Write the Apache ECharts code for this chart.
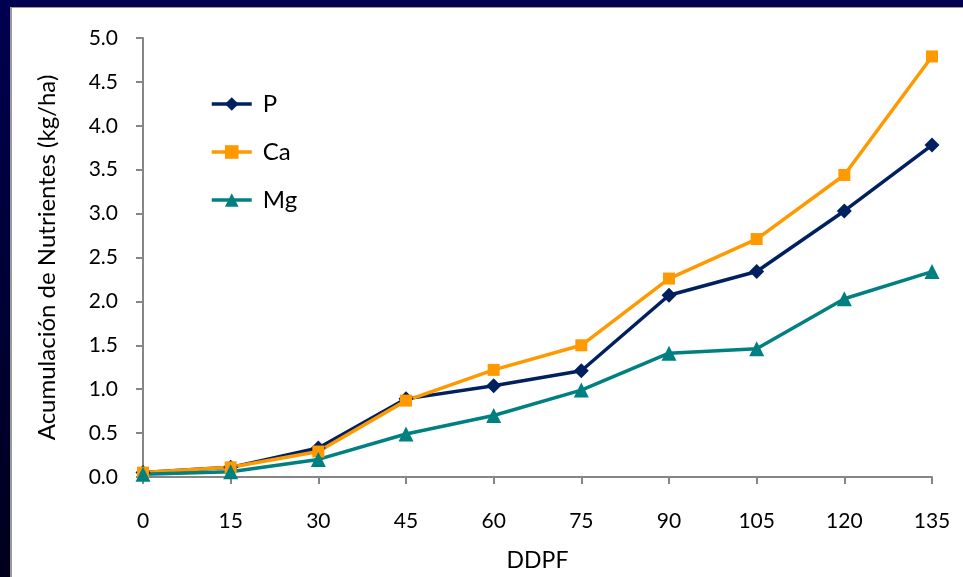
<!DOCTYPE html>
<html>
<head>
<meta charset="utf-8">
<script src="https://cdn.jsdelivr.net/npm/echarts@6/dist/echarts.min.js"></script>
<style>
  html, body { margin: 0; padding: 0; }
  body {
    width: 963px; height: 577px; overflow: hidden;
    background: linear-gradient(#000050, #00001c);
    position: relative;
  }
  #chart {
    position: absolute; left: 10px; top: 7px;
    width: 953px; height: 570px;
    background: #fff;
    border-left: 2px solid #9a9a9a;
    border-top: 1px solid #9a9a9a;
    box-sizing: border-box;
  }
</style>
</head>
<body>
<div id="chart"></div>
<script>
const days = [0, 15, 30, 45, 60, 75, 90, 105, 120, 135];
const fosforo = [0.05, 0.11, 0.33, 0.89, 1.04, 1.21, 2.07, 2.34, 3.03, 3.78];
const calcio = [0.05, 0.11, 0.29, 0.87, 1.22, 1.50, 2.26, 2.71, 3.44, 4.79];
const magnesio = [0.03, 0.06, 0.20, 0.49, 0.70, 0.99, 1.41, 1.46, 2.03, 2.34];

const pairs = (ys) => days.map((d, i) => [d, ys[i]]);

const chart = echarts.init(document.getElementById('chart'));
const font = 'Lato, "Open Sans", sans-serif';

chart.setOption({
  animation: false,
  textStyle: { fontFamily: font },
  grid: { left: 131, right: 31, top: 30, bottom: 99 },
  legend: {
    orient: 'vertical',
    left: 193,
    top: 79,
    itemGap: 24,
    itemWidth: 40,
    itemHeight: 17,
    lineStyle: { width: 3.5 },
    textStyle: { fontSize: 24, color: '#000', fontFamily: font, padding: [0, 0, 0, 6] },
    data: ['P', 'Ca', 'Mg']
  },
  xAxis: {
    type: 'value',
    min: 0, max: 135, interval: 15,
    name: 'DDPF',
    nameLocation: 'middle',
    nameGap: 72,
    nameTextStyle: { fontSize: 23, color: '#000', fontFamily: font },
    axisLine: { lineStyle: { color: '#868686', width: 2 } },
    axisTick: { show: true, length: 7, lineStyle: { color: '#868686', width: 2 } },
    axisLabel: { fontSize: 21, color: '#000', margin: 34, fontFamily: font },
    splitLine: { show: false }
  },
  yAxis: {
    type: 'value',
    min: 0, max: 5, interval: 0.5,
    name: 'Acumulación de Nutrientes (kg/ha)',
    nameLocation: 'middle',
    nameGap: 84,
    nameTextStyle: { fontSize: 24, color: '#000', fontFamily: font },
    axisLine: { show: true, lineStyle: { color: '#868686', width: 2 } },
    axisTick: { show: true, length: 7, lineStyle: { color: '#868686', width: 2 } },
    axisLabel: { fontSize: 21, color: '#000', margin: 25, fontFamily: font,
      formatter: (v) => v.toFixed(1) },
    splitLine: { show: false }
  },
  series: [
    {
      name: 'P', type: 'line', data: pairs(fosforo),
      symbol: 'diamond', symbolSize: 15,
      lineStyle: { color: '#002060', width: 3.5 },
      itemStyle: { color: '#002060' }
    },
    {
      name: 'Ca', type: 'line', data: pairs(calcio),
      symbol: 'rect', symbolSize: 12,
      lineStyle: { color: '#ff9900', width: 3.5 },
      itemStyle: { color: '#ff9900' }
    },
    {
      name: 'Mg', type: 'line', data: pairs(magnesio),
      symbol: 'triangle', symbolSize: 15,
      lineStyle: { color: '#008080', width: 3.5 },
      itemStyle: { color: '#008080' }
    }
  ]
});
</script>
</body>
</html>
